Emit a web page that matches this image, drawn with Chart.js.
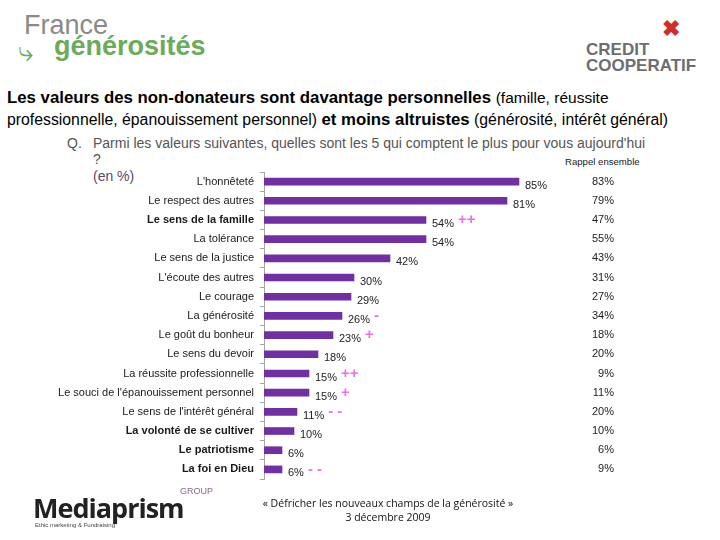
<!DOCTYPE html>
<html>
<head>
<meta charset="utf-8">
<script src="https://cdn.jsdelivr.net/npm/chart.js@4.4.1/dist/chart.umd.min.js"></script>
<style>
  body { margin: 0; width: 720px; height: 540px; background: #fff; position: relative; overflow: hidden; font-family: "Liberation Sans", Arial, sans-serif; }
  .abs { position: absolute; white-space: nowrap; }
  #wrap { position: absolute; left: 0; top: 0; width: 720px; height: 540px; }
</style>
</head>
<body>
<!-- logos, drawn as text -->
<div class="abs" style="left:24px;top:10px;font-size:27px;color:#8a8a8a;">France</div>
<div class="abs" style="left:54px;top:31px;font-size:27px;font-weight:bold;color:#6cab5c;">générosités</div>
<div class="abs" style="left:18px;top:36px;font-size:28px;color:#6cab5c;">&#10551;</div>
<div class="abs" style="left:586px;top:42px;font-size:17px;font-weight:bold;color:#6d6e71;line-height:16px;">CREDIT<br>COOPERATIF</div>
<div class="abs" style="left:662px;top:16px;font-size:22px;font-weight:bold;color:#d12c2c;">&#10006;</div>

<div class="abs" style="left:7px;top:88px;font-size:16.8px;color:#000;"><b>Les valeurs des non-donateurs sont davantage personnelles</b> <span style="font-size:15.5px">(famille, réussite</span></div>
<div class="abs" style="left:7px;top:110px;font-size:15.8px;color:#000;">professionnelle, épanouissement personnel) <b style="font-size:16.8px">et moins altruistes</b> (générosité, intérêt général)</div>

<div class="abs" style="left:67px;top:135px;font-size:14px;color:#555;">Q.</div>
<div class="abs" style="left:93px;top:135px;font-size:14px;color:#555;">Parmi les valeurs suivantes, quelles sont les 5 qui comptent le plus pour vous aujourd'hui</div>
<div class="abs" style="left:93px;top:151px;font-size:14px;color:#555;">?</div>
<div class="abs" style="left:93px;top:168px;font-size:14px;color:#5a4a6a;">(en %)</div>
<div class="abs" style="left:565px;top:156px;font-size:9.6px;color:#222;">Rappel ensemble</div>

<div id="wrap"><canvas id="chart"></canvas></div>

<div class="abs" style="left:33px;top:489px;font-size:27px;font-weight:bold;color:#222;letter-spacing:-1px;font-family:'Open Sans',sans-serif;">Mediaprism</div>
<div class="abs" style="left:180px;top:486px;font-size:9px;color:#8a6a8a;">GROUP</div>
<div class="abs" style="left:35px;top:522px;font-size:6px;color:#444;">Ethic marketing &amp; Fundraising</div>
<div class="abs" style="left:258px;top:496px;width:260px;text-align:center;font-size:10.5px;color:#111;font-family:'Open Sans',sans-serif;line-height:14px;">« Défricher les nouveaux champs de la générosité »<br>3 décembre 2009</div>

<script>
const categories = [
  "L'honnêteté",
  "Le respect des autres",
  "Le sens de la famille",
  "La tolérance",
  "Le sens de la justice",
  "L'écoute des autres",
  "Le courage",
  "La générosité",
  "Le goût du bonheur",
  "Le sens du devoir",
  "La réussite professionnelle",
  "Le souci de l'épanouissement personnel",
  "Le sens de l'intérêt général",
  "La volonté de se cultiver",
  "Le patriotisme",
  "La foi en Dieu"
];
const nonDonateurs = [85, 81, 54, 54, 42, 30, 29, 26, 23, 18, 15, 15, 11, 10, 6, 6];
const rappelEnsemble = [83, 79, 47, 55, 43, 31, 27, 34, 18, 20, 9, 11, 20, 10, 6, 9];
const ecarts = ["", "", "++", "", "", "", "", "-", "+", "", "++", "+", "- -", "", "", "- -"];
const boldLabels = ["Le sens de la famille", "La volonté de se cultiver", "Le patriotisme", "La foi en Dieu"];

const purple = "#7030a0";
const pink = "#e772e0";

const labelsPlugin = {
  id: "valueLabels",
  afterDatasetsDraw(chart) {
    const ctx = chart.ctx;
    const meta = chart.getDatasetMeta(0);
    ctx.save();
    ctx.textBaseline = "middle";
    meta.data.forEach((bar, i) => {
      const txt = nonDonateurs[i] + "%";
      ctx.font = "11px 'Liberation Sans', Arial, sans-serif";
      ctx.fillStyle = "#222";
      ctx.textAlign = "left";
      const tx = bar.x + 6;
      const ty = bar.y + 4;
      ctx.fillText(txt, tx, ty);
      if (ecarts[i]) {
        const w = ctx.measureText(txt).width;
        ctx.fillStyle = pink;
        ctx.font = "bold 15px 'Liberation Sans', Arial, sans-serif";
        ctx.fillText(ecarts[i], tx + w + 4, bar.y);
      }
      ctx.font = "11px 'Liberation Sans', Arial, sans-serif";
      ctx.fillStyle = "#222";
      ctx.textAlign = "right";
      ctx.fillText(rappelEnsemble[i] + "%", 614, bar.y);
    });
    ctx.restore();
  }
};

new Chart(document.getElementById("chart"), {
  type: "bar",
  data: {
    labels: categories,
    datasets: [{
      label: "Non-donateurs",
      data: nonDonateurs,
      backgroundColor: purple,
      borderWidth: 0,
      barThickness: 7
    }]
  },
  options: {
    indexAxis: "y",
    responsive: true,
    maintainAspectRatio: false,
    animation: false,
    layout: {
      padding: { top: 172, bottom: 61, left: 0, right: 156 }
    },
    plugins: {
      legend: { display: false },
      tooltip: { enabled: false }
    },
    scales: {
      x: {
        display: false,
        min: 0,
        max: 100
      },
      y: {
        afterFit: (scale) => { scale.width = 264; },
        border: { color: "#a6a6a6", width: 1 },
        grid: {
          drawOnChartArea: false,
          tickLength: 4,
          color: "#a6a6a6",
          offset: true
        },
        ticks: {
          padding: 6,
          color: "#1a1a1a",
          font: (c) => ({
            family: "'Liberation Sans', Arial, sans-serif",
            size: 11,
            weight: boldLabels.includes(categories[c.index]) ? "bold" : "normal"
          })
        }
      }
    }
  },
  plugins: [labelsPlugin]
});
</script>
</body>
</html>
